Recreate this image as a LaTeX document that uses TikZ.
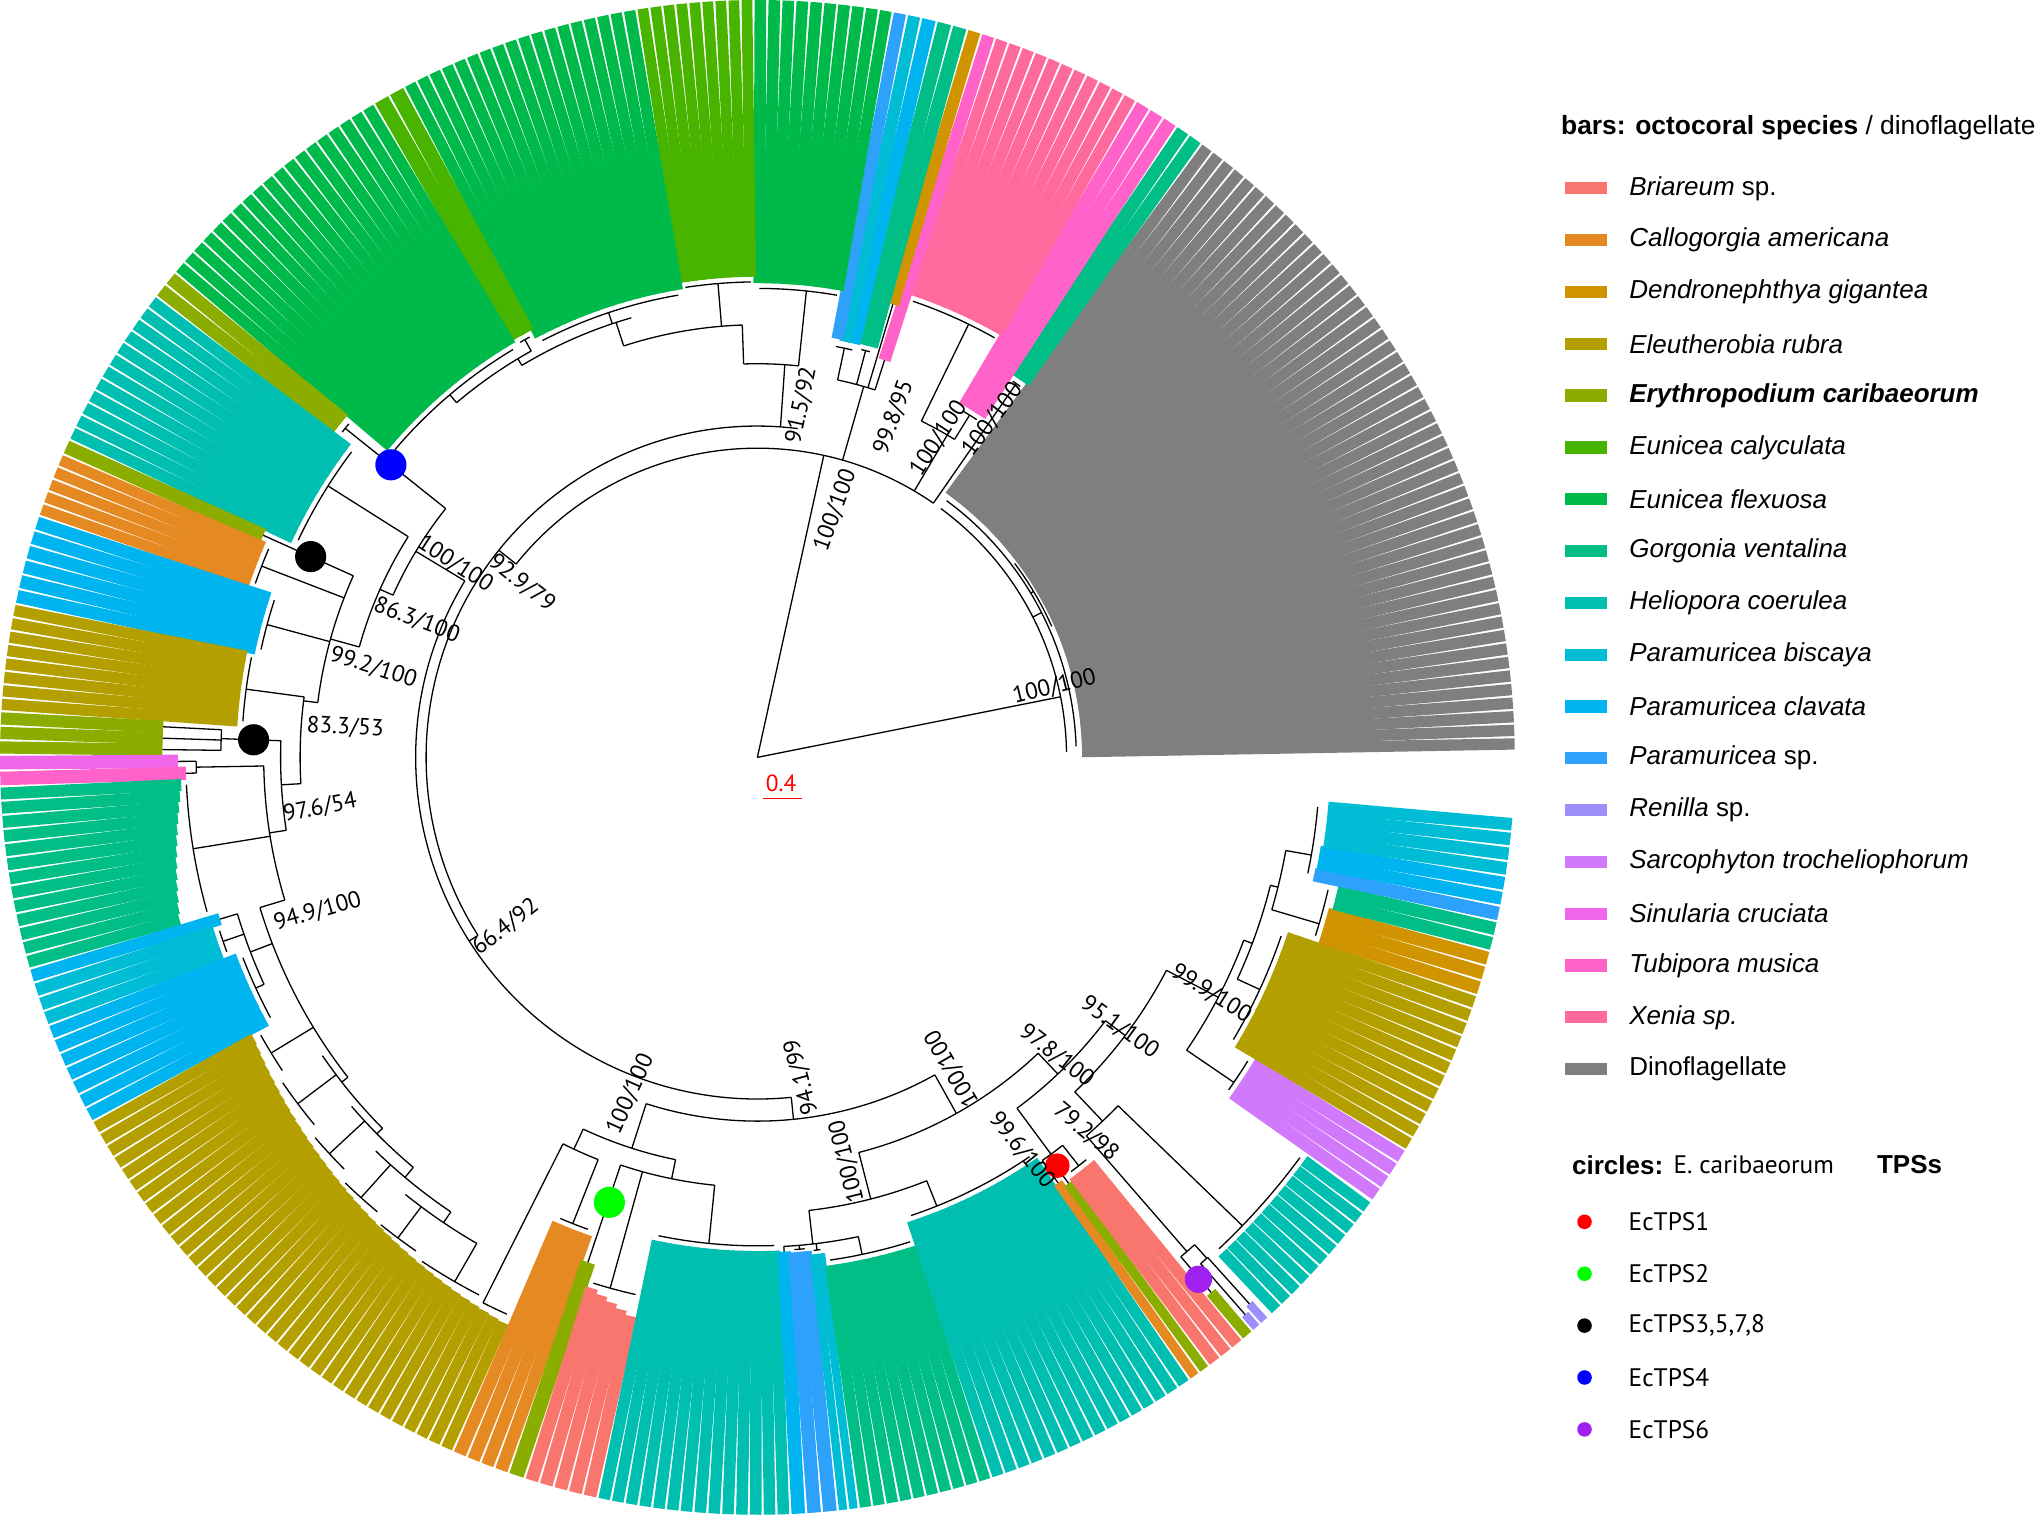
\documentclass[tikz,border=0pt]{standalone}
\usepackage{fontspec}
\setmainfont{Liberation Sans}
\newfontfamily\lblfont{PT Sans}
\usepackage{tikz}
\usetikzlibrary{positioning}
\definecolor{bri}{HTML}{F8766D}
\definecolor{cal}{HTML}{E58A22}
\definecolor{den}{HTML}{CF9400}
\definecolor{ele}{HTML}{B3A000}
\definecolor{ery}{HTML}{8AAD00}
\definecolor{eca}{HTML}{49B400}
\definecolor{efl}{HTML}{00B94B}
\definecolor{gor}{HTML}{00BE85}
\definecolor{hel}{HTML}{00BFB0}
\definecolor{pbi}{HTML}{00BDD5}
\definecolor{pcl}{HTML}{00B4F0}
\definecolor{psp}{HTML}{2EA2FA}
\definecolor{ren}{HTML}{9D8FFA}
\definecolor{sar}{HTML}{D079FA}
\definecolor{sin}{HTML}{F066EA}
\definecolor{tub}{HTML}{FF62C8}
\definecolor{xen}{HTML}{FF6A9E}
\definecolor{dino}{HTML}{7F7F7F}
\definecolor{tpsgreen}{HTML}{00FF00}
\definecolor{tpspurple}{HTML}{A020F0}
\tikzset{
  br/.style={line width=1pt,black},
  bs/.style={font=\lblfont\fontsize{18}{20}\selectfont,inner sep=0pt},
  lg/.style={font=\fontsize{20}{24}\selectfont,anchor=west,inner sep=0pt},
  tps/.style={lg,font=\lblfont\fontsize{19.5}{23}\selectfont},
}
% tree pieces: arc, radial branch, clade (branch + arc)
\newcommand{\tac}[3]{\draw[br] (#2:#1pt) arc[start angle=#2,end angle=#3,radius=#1pt];}
\newcommand{\tbr}[3]{\draw[br] (#1:#2pt) -- (#1:#3pt);}
\newcommand{\tcl}[5]{\tbr{#1}{#2}{#3}\tac{#3}{#4}{#5}}
% coloured leaf bars: from, to, count, inner radius first/last, colour
\newcommand{\blk}[6]{%
  \pgfmathsetmacro\dd{(#2-#1)/#3}%
  \pgfmathsetmacro\hw{(\dd*pi/180*583-1.8)/2}%
  \foreach \k in {1,...,#3}{%
    \pgfmathsetmacro\ang{#1+(\k-0.5)*\dd}%
    \pgfmathsetmacro\rin{#4+(#5-#4)*(\k-1)/max(#3-1,1)}%
    \fill[fill=#6,rotate=\ang] (\rin,-\hw) rectangle (583,\hw);
  }%
}

\begin{document}
\begin{tikzpicture}[x=1pt,y=1pt]
  \useasboundingbox (-583,-583) rectangle (985,583);
  \fill[white] (-583,-583) rectangle (985,583);

  \foreach \aS/\aE/\nS/\rS/\rE/\cS in {
    0.5/54.1/52/250/250/dino, 54.1/56.4/2/354/354/gor, 56.4/60.0/3/314/314/tub,
    60.0/71.7/11/375/375/xen, 71.7/72.8/1/321/321/tub, 72.8/73.9/1/364/364/den,
    73.9/76.3/2/328/328/gor, 76.3/77.5/1/327/327/pcl, 77.5/78.6/1/327/327/pbi,
    78.6/79.7/1/328/328/psp, 79.7/90.3/10/365/365/efl, 90.3/99.2/9/370/370/eca,
    99.2/117.8/18/365/365/efl, 117.8/120.4/2/372/372/eca, 120.4/140.2/19/370/370/efl,
    140.2/142.5/2/411/411/ery, 142.5/155.2/12/395/395/hel, 155.2/156.4/1/417/417/ery,
    156.4/161.4/5/413/413/cal, 161.4/168.3/6/395/395/pcl, 168.3/176.5/8/401/401/ele,
    176.5/179.8/3/458/458/ery, 179.8/181.0/1/446/446/sin, 181.0/182.2/1/440/440/tub,
    182.2/196.2/13/444/462/gor, 196.2/197.3/1/432/432/pcl, 197.3/200.7/3/439/439/pbi,
    200.7/208.7/7/429/429/pcl, 208.7/246.3/36/444/477/ele, 246.3/250.8/4/390/390/cal,
    250.8/252.1/1/410/410/ery, 252.1/257.8/5/428/441/bri, 257.8/272.5/14/380/380/hel,
    272.5/273.7/1/381/381/pcl, 273.7/276.1/2/382/382/psp, 276.1/277.7/2/385/385/pbi,
    277.7/288.0/10/395/395/gor, 288.0/304.8/16/376/376/hel, 304.8/305.7/1/401/401/cal,
    305.7/306.6/1/406/406/ery, 306.6/309.8/3/404/404/bri, 309.8/310.8/1/540/540/ery,
    310.8/311.6/1/570/570/ren, 311.6/312.4/1/566/566/ren, 312.7/324.1/11/523/523/hel,
    324.2/328.8/4/448/448/sar, 328.8/341.7/12/430/430/ele, 341.7/345.2/3/455/455/den,
    345.2/347.5/2/458/458/gor, 347.5/348.7/1/438/438/psp, 348.7/351.0/2/439/439/pcl,
    351.0/355.5/4/441/441/pbi}
    {\blk{\aS}{\aE}{\nS}{\rS}{\rE}{\cS}}

  % root and dinoflagellate clade
  \tbr{11.3}{0}{238} \tbr{77.6}{0}{238}
  \tac{238}{1.0}{53.6}
  \tcl{27}{238}{245.5}{2}{53.6}
  \tcl{31}{245.5}{248}{24}{37}
  % octocorals, top
  \tac{238}{55.3}{141.3}
  \tcl{55.3}{238}{350}{54.675}{55.825}
  \tcl{59.5}{238}{288}{58.2}{64}
  \tcl{58.2}{288}{310}{57.0}{59.4}
  \tcl{64}{288}{371}{60.53}{71.17}
  \tcl{74}{238}{297}{72.25}{78}
  \tbr{72.25}{297}{321} \tbr{73.35}{297}{364}
  \tcl{75.1}{297}{324}{74.5}{75.7}
  \tcl{78}{297}{322}{76.9}{79.15}
  \tcl{141.3}{238}{255}{83}{212.5}
  \tcl{86}{255}{303}{84}{92}
  \tcl{84}{303}{361}{80.23}{89.77}
  \tcl{92}{303}{333}{92}{108}
  \tcl{94.75}{333}{366}{90.79}{98.71}
  \tcl{108}{333}{352}{106}{121}
  \tcl{108.5}{352}{361}{99.72}{117.28}
  \tcl{121}{352}{358}{119.1}{130.3}
  \tcl{119.1}{358}{368}{118.45}{119.75}
  \tcl{130.3}{358}{366}{120.92}{139.68}
  % left side
  \tcl{212.5}{255}{263}{148.9}{275.7}
  \tcl{148.9}{263}{307}{141.4}{156}
  \tcl{141.4}{307}{406}{140.775}{141.925}
  \tcl{156}{307}{318}{147.7}{164.5}
  \tcl{147.7}{318}{391}{143.03}{154.67}
  \tcl{164.5}{318}{341}{155.8}{172.9}
  \tbr{155.8}{341}{417}
  \tcl{158.9}{341}{409}{156.9}{160.9}
  \tcl{164.85}{341}{391}{161.975}{167.725}
  \tcl{172.9}{341}{352}{172.4}{183.3}
  \tcl{172.4}{352}{397}{168.81}{175.99}
  \tcl{183.3}{352}{367}{178}{188.8}
  \tcl{178}{367}{413}{177.05}{179.25}
  \tbr{177.05}{413}{458} \tbr{178.15}{413}{458} \tbr{179.25}{413}{458}
  \tcl{188.8}{367}{380}{181}{196.8}
  \tcl{181}{380}{432}{180.4}{181.6}
  \tbr{180.4}{432}{446} \tbr{181.6}{432}{440}
  \tcl{189.2}{380}{440}{182.74}{195.66}
  \tcl{196.8}{380}{400}{196.8}{218}
  \tcl{201}{400}{418}{196.75}{204.7}
  \tbr{196.75}{418}{432}
  \tcl{199}{418}{435}{197.87}{200.13}
  \tcl{204.7}{418}{425}{201.27}{208.13}
  \tcl{211.3}{400}{438}{209.22}{213.40}
  \tcl{218}{400}{406}{214.44}{224.7}
  \tcl{217}{406}{443}{214.44}{219.66}
  \tcl{224.7}{406}{412}{220.7}{230}
  \tcl{222.8}{412}{449}{220.70}{224.88}
  \tcl{230}{412}{422}{225.9}{236}
  \tcl{228}{422}{456}{225.93}{230.10}
  \tcl{236}{422}{432}{231.15}{240}
  \tcl{233.2}{432}{462}{231.15}{235.32}
  \tcl{240}{432}{466}{236.37}{242.63}
  % bottom
  \tcl{275.7}{263}{280}{252.2}{299.2}
  \tcl{252.2}{280}{316}{244.9}{258.5}
  \tcl{244.9}{316}{333}{243.3}{248.4}
  \tcl{243.3}{333}{470}{243.3}{245.78}
  \tcl{248.4}{333}{386}{246.86}{250.24}
  \tcl{258.5}{316}{331}{251.45}{264.3}
  \tbr{251.45}{331}{410}
  \tcl{254.5}{331}{424}{252.67}{257.23}
  \tcl{264.3}{331}{376}{258.33}{271.98}
  \tcl{299.2}{280}{314}{284.4}{313.5}
  \tcl{284.4}{314}{351}{276.5}{291.8}
  \tcl{276.5}{351}{377}{273.1}{281.9}
  \tbr{273.1}{377}{381}
  \tcl{274.9}{377}{380}{274.3}{275.5}
  \tcl{276.9}{377}{382}{276.5}{277.3}
  \tcl{281.9}{377}{391}{278.22}{287.49}
  \tcl{291.8}{351}{372}{288.53}{304.28}
  % bottom right
  \tcl{313.5}{314}{336}{306.5}{322.9}
  \tcl{306.5}{336}{380}{305.25}{308.2}
  \tbr{305.25}{380}{401} \tbr{306.15}{380}{406}
  \tcl{308.2}{380}{400}{307.13}{309.27}
  \tcl{322.9}{336}{355}{313.5}{332.5}
  \tcl{313.5}{355}{386}{311}{316}
  \tcl{311}{386}{504}{310.3}{311.9}
  \tbr{310.3}{504}{540}
  \tcl{311.9}{504}{518}{311.2}{312.0}
  \tbr{311.2}{518}{570} \tbr{312.0}{518}{566}
  \tcl{316}{386}{519}{313.22}{323.58}
  \tcl{332.5}{355}{400}{325.7}{339.4}
  \tcl{325.7}{400}{444}{324.78}{328.23}
  \tcl{339.4}{400}{407}{335.2}{346}
  \tcl{335.2}{407}{426}{329.34}{341.16}
  \tcl{346}{407}{413}{343.5}{350}
  \tcl{343.5}{413}{451}{342.28}{346.93}
  \tcl{350}{413}{433}{348.1}{354.94}

  % E. caribaeorum TPS marks
  \fill[blue] (141.4:361pt) circle[radius=12pt];
  \fill[black] (155.8:377pt) circle[radius=12pt];
  \fill[black] (178:388pt) circle[radius=12pt];
  \fill[tpsgreen] (251.6:361pt) circle[radius=12pt];
  \fill[red] (306.3:390pt) circle[radius=9.5pt];
  \fill[tpspurple] (310.2:526pt) circle[radius=10.5pt];

  % support values
  \node[bs,rotate=70] (b1) at (60,190) {100/100};
  \node[bs,rotate=14] (b2) at (228.7,54.4) {100/100};
  \node[bs,rotate=78] (b3) at (34,271) {91.5/92};
  \node[bs,rotate=70] (b4) at (105,262) {99.8/95};
  \node[bs,rotate=57] (b5) at (139.5,245.6) {100/100};
  \node[bs,rotate=53] (b6) at (181,260) {100/100};
  \node[bs,rotate=-38] (b7) at (-181.3,133.9) {92.9/79};
  \node[bs,rotate=-33] (b8) at (-232.6,148.7) {100/100};
  \node[bs,rotate=-21] (b9) at (-262.2,105.5) {86.3/100};
  \node[bs,rotate=-18] (b10) at (-295.5,69.1) {99.2/100};
  \node[bs,rotate=-3] (b11) at (-317.3,23.1) {83.3/53};
  \node[bs,rotate=11] (b12) at (-336.6,-39) {97.6/54};
  \node[bs,rotate=16] (b13) at (-338.5,-118.6) {94.9/100};
  \node[bs,rotate=38] (b14) at (-193.8,-130.5) {66.4/92};
  \node[bs,rotate=66] (b15) at (-97.7,-259.3) {100/100};
  \node[bs,rotate=105] (b16) at (34,-246) {94.1/99};
  \node[bs,rotate=120] (b17) at (150,-239.4) {100/100};
  \node[bs,rotate=104] (b18) at (69,-311) {100/100};
  \node[bs,rotate=-38] (b19) at (230.2,-229.6) {97.8/100};
  \node[bs,rotate=-36] (b20) at (278.9,-208) {95.1/100};
  \node[bs,rotate=-32] (b21) at (349.4,-181.7) {99.9/100};
  \node[bs,rotate=-51] (b22) at (203.4,-302.3) {99.6/100};
  \node[bs,rotate=-40] (b23) at (253,-288.6) {79.2/98};
  \node[bs,red] (scl) at (18.2,-20) {0.4};
  \draw[red,line width=1.2pt] (4.1,-31.5) -- (34.4,-31.5);

  % legend
  \node[lg,font=\fontsize{20.3}{24}\selectfont] (hdr) at (618.5,485) {\textbf{bars: octocoral species} / dinoflagellate};
  \foreach \cS/\nm [count=\i from 0] in {bri/{\textit{Briareum} sp.}, cal/\textit{Callogorgia americana}, den/\textit{Dendronephthya gigantea}, ele/\textit{Eleutherobia rubra}, ery/\textbf{\textit{Erythropodium caribaeorum}}, eca/\textit{Eunicea calyculata}, efl/\textit{Eunicea flexuosa}, gor/\textit{Gorgonia ventalina}, hel/\textit{Heliopora coerulea}, pbi/\textit{Paramuricea biscaya}, pcl/\textit{Paramuricea clavata}, psp/{\textit{Paramuricea} sp.}, ren/{\textit{Renilla} sp.}, sar/\textit{Sarcophyton trocheliophorum}, sin/\textit{Sinularia cruciata}, tub/\textit{Tubipora musica}, xen/\textit{Xenia sp.}, dino/Dinoflagellate} {
     \fill[\cS] (622,438-39.88*\i-4.7) rectangle (654,438-39.88*\i+4.7);
     \node[lg] (sp\i) at (671,438-39.88*\i) {\nm};
  }
  \node[lg] (chd) at (627,-313.8) {\textbf{circles:}};
  \node[tps] (chd2) at (705,-313.8) {E. caribaeorum};
  \node[lg] (chd3) at (861.7,-313.8) {\textbf{TPSs}};
  \foreach \cS/\nm [count=\i from 0] in {red/EcTPS1, tpsgreen/EcTPS2, black/{EcTPS3,5,7,8}, blue/EcTPS4, tpspurple/EcTPS6} {
     \fill[\cS] (636.7,-357.5-39.95*\i) circle[radius=5.6pt];
     \node[tps] (tp\i) at (670.5,-357.5-39.95*\i) {\nm};
  }
\end{tikzpicture}
\end{document}
